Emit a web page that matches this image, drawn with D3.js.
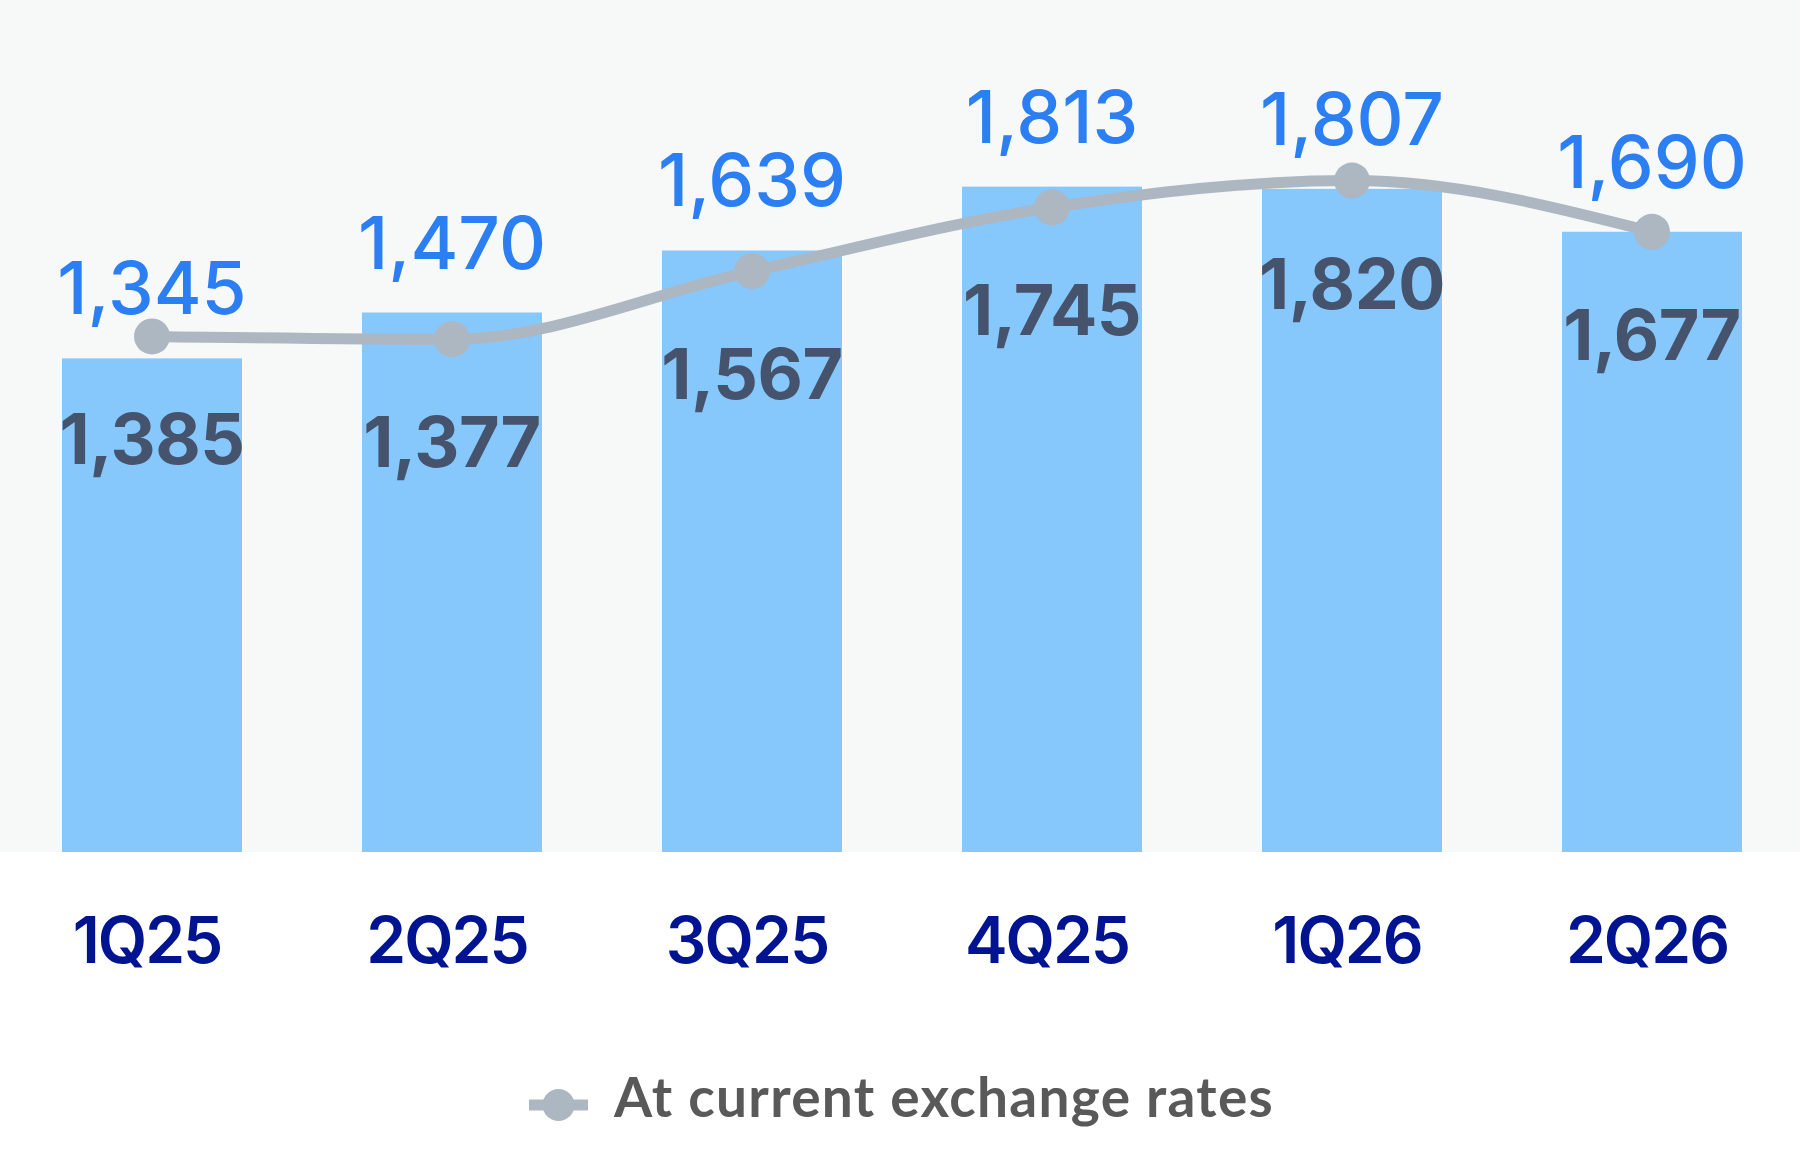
<!DOCTYPE html>
<html lang="en">
<head>
    <meta charset="UTF-8">
    <title>Quarterly results</title>
    <script src="https://d3js.org/d3.v7.min.js"></script>
    <style>
        body { margin: 0; background: #fff; }
        .bar-label { font: 500 73px Inter, sans-serif; fill: #2b7ff2; text-anchor: middle; }
        .line-label { font: 700 70px Inter, sans-serif; fill: #46536c; text-anchor: middle; letter-spacing: -0.5px; }
        .x-axis text { font: 600 64px Inter, sans-serif; fill: #001391; letter-spacing: -2px; }
        .legend-text { font: 700 55px Lato, sans-serif; fill: #595959; letter-spacing: 1.3px; }
    </style>
</head>
<body>
    <div id="chart"></div>
    <script>
        const quarters = ["1Q25", "2Q25", "3Q25", "4Q25", "1Q26", "2Q26"];
        const barValues = [1345, 1470, 1639, 1813, 1807, 1690];
        const lineValues = [1385, 1377, 1567, 1745, 1820, 1677];
        const legendLabel = "At current exchange rates";

        const width = 1800, height = 1152, plotBottom = 852;

        const svg = d3.select("#chart").append("svg")
            .attr("width", width)
            .attr("height", height);

        // plot area background
        svg.append("rect")
            .attr("x", 0).attr("y", 0)
            .attr("width", width).attr("height", plotBottom)
            .attr("fill", "#f7f8f8");

        const x = d3.scaleBand()
            .domain(quarters)
            .range([2, 1802])
            .paddingInner(0.4)
            .paddingOuter(0.2);

        const yBar = d3.scaleLinear()
            .domain([0, 2000])
            .range([plotBottom, plotBottom - 734]);

        // the line sits on its own axis
        const yLine = d3.scaleLinear()
            .domain([0, 2000])
            .range([833, 833 - 717]);

        const data = quarters.map((q, i) => ({ q, bar: barValues[i], line: lineValues[i] }));
        const cx = d => x(d.q) + x.bandwidth() / 2;

        svg.append("g")
            .selectAll("rect")
            .data(data)
            .enter().append("rect")
              .attr("x", d => x(d.q))
              .attr("y", d => yBar(d.bar))
              .attr("width", x.bandwidth())
              .attr("height", d => yBar(0) - yBar(d.bar))
              .attr("fill", "#86c7fc");

        const fmt = d3.format(",");

        svg.append("g")
            .selectAll("text")
            .data(data)
            .enter().append("text")
              .attr("class", "bar-label")
              .attr("x", cx)
              .attr("y", d => yBar(d.bar) - 44)
              .text(d => fmt(d.bar));

        const line = d3.line()
            .x(cx)
            .y(d => yLine(d.line))
            .curve(d3.curveMonotoneX);

        svg.append("path")
            .datum(data)
            .attr("d", line)
            .attr("fill", "none")
            .attr("stroke", "#adb7c1")
            .attr("stroke-width", 11);

        svg.append("g")
            .selectAll("circle")
            .data(data)
            .enter().append("circle")
              .attr("cx", cx)
              .attr("cy", d => yLine(d.line))
              .attr("r", 18)
              .attr("fill", "#adb7c1");

        svg.append("g")
            .selectAll("text")
            .data(data)
            .enter().append("text")
              .attr("class", "line-label")
              .attr("x", cx)
              .attr("y", d => yLine(d.line) + 128)
              .text(d => fmt(d.line));

        const xAxis = svg.append("g")
            .attr("class", "x-axis")
            .attr("transform", `translate(0,${plotBottom})`)
            .call(d3.axisBottom(x).tickSize(0).tickPadding(0));
        xAxis.select(".domain").remove();
        xAxis.selectAll("text")
            .attr("dy", null)
            .attr("x", -5)
            .attr("y", 111);

        // legend
        const legend = svg.append("g")
            .attr("transform", "translate(529,1105)");
        legend.append("line")
            .attr("x1", 0).attr("x2", 59)
            .attr("stroke", "#adb7c1")
            .attr("stroke-width", 11);
        legend.append("circle")
            .attr("cx", 29.5)
            .attr("r", 16)
            .attr("fill", "#adb7c1");
        legend.append("text")
            .attr("class", "legend-text")
            .attr("x", 85)
            .attr("y", 12)
            .text(legendLabel);
    </script>
</body>
</html>
